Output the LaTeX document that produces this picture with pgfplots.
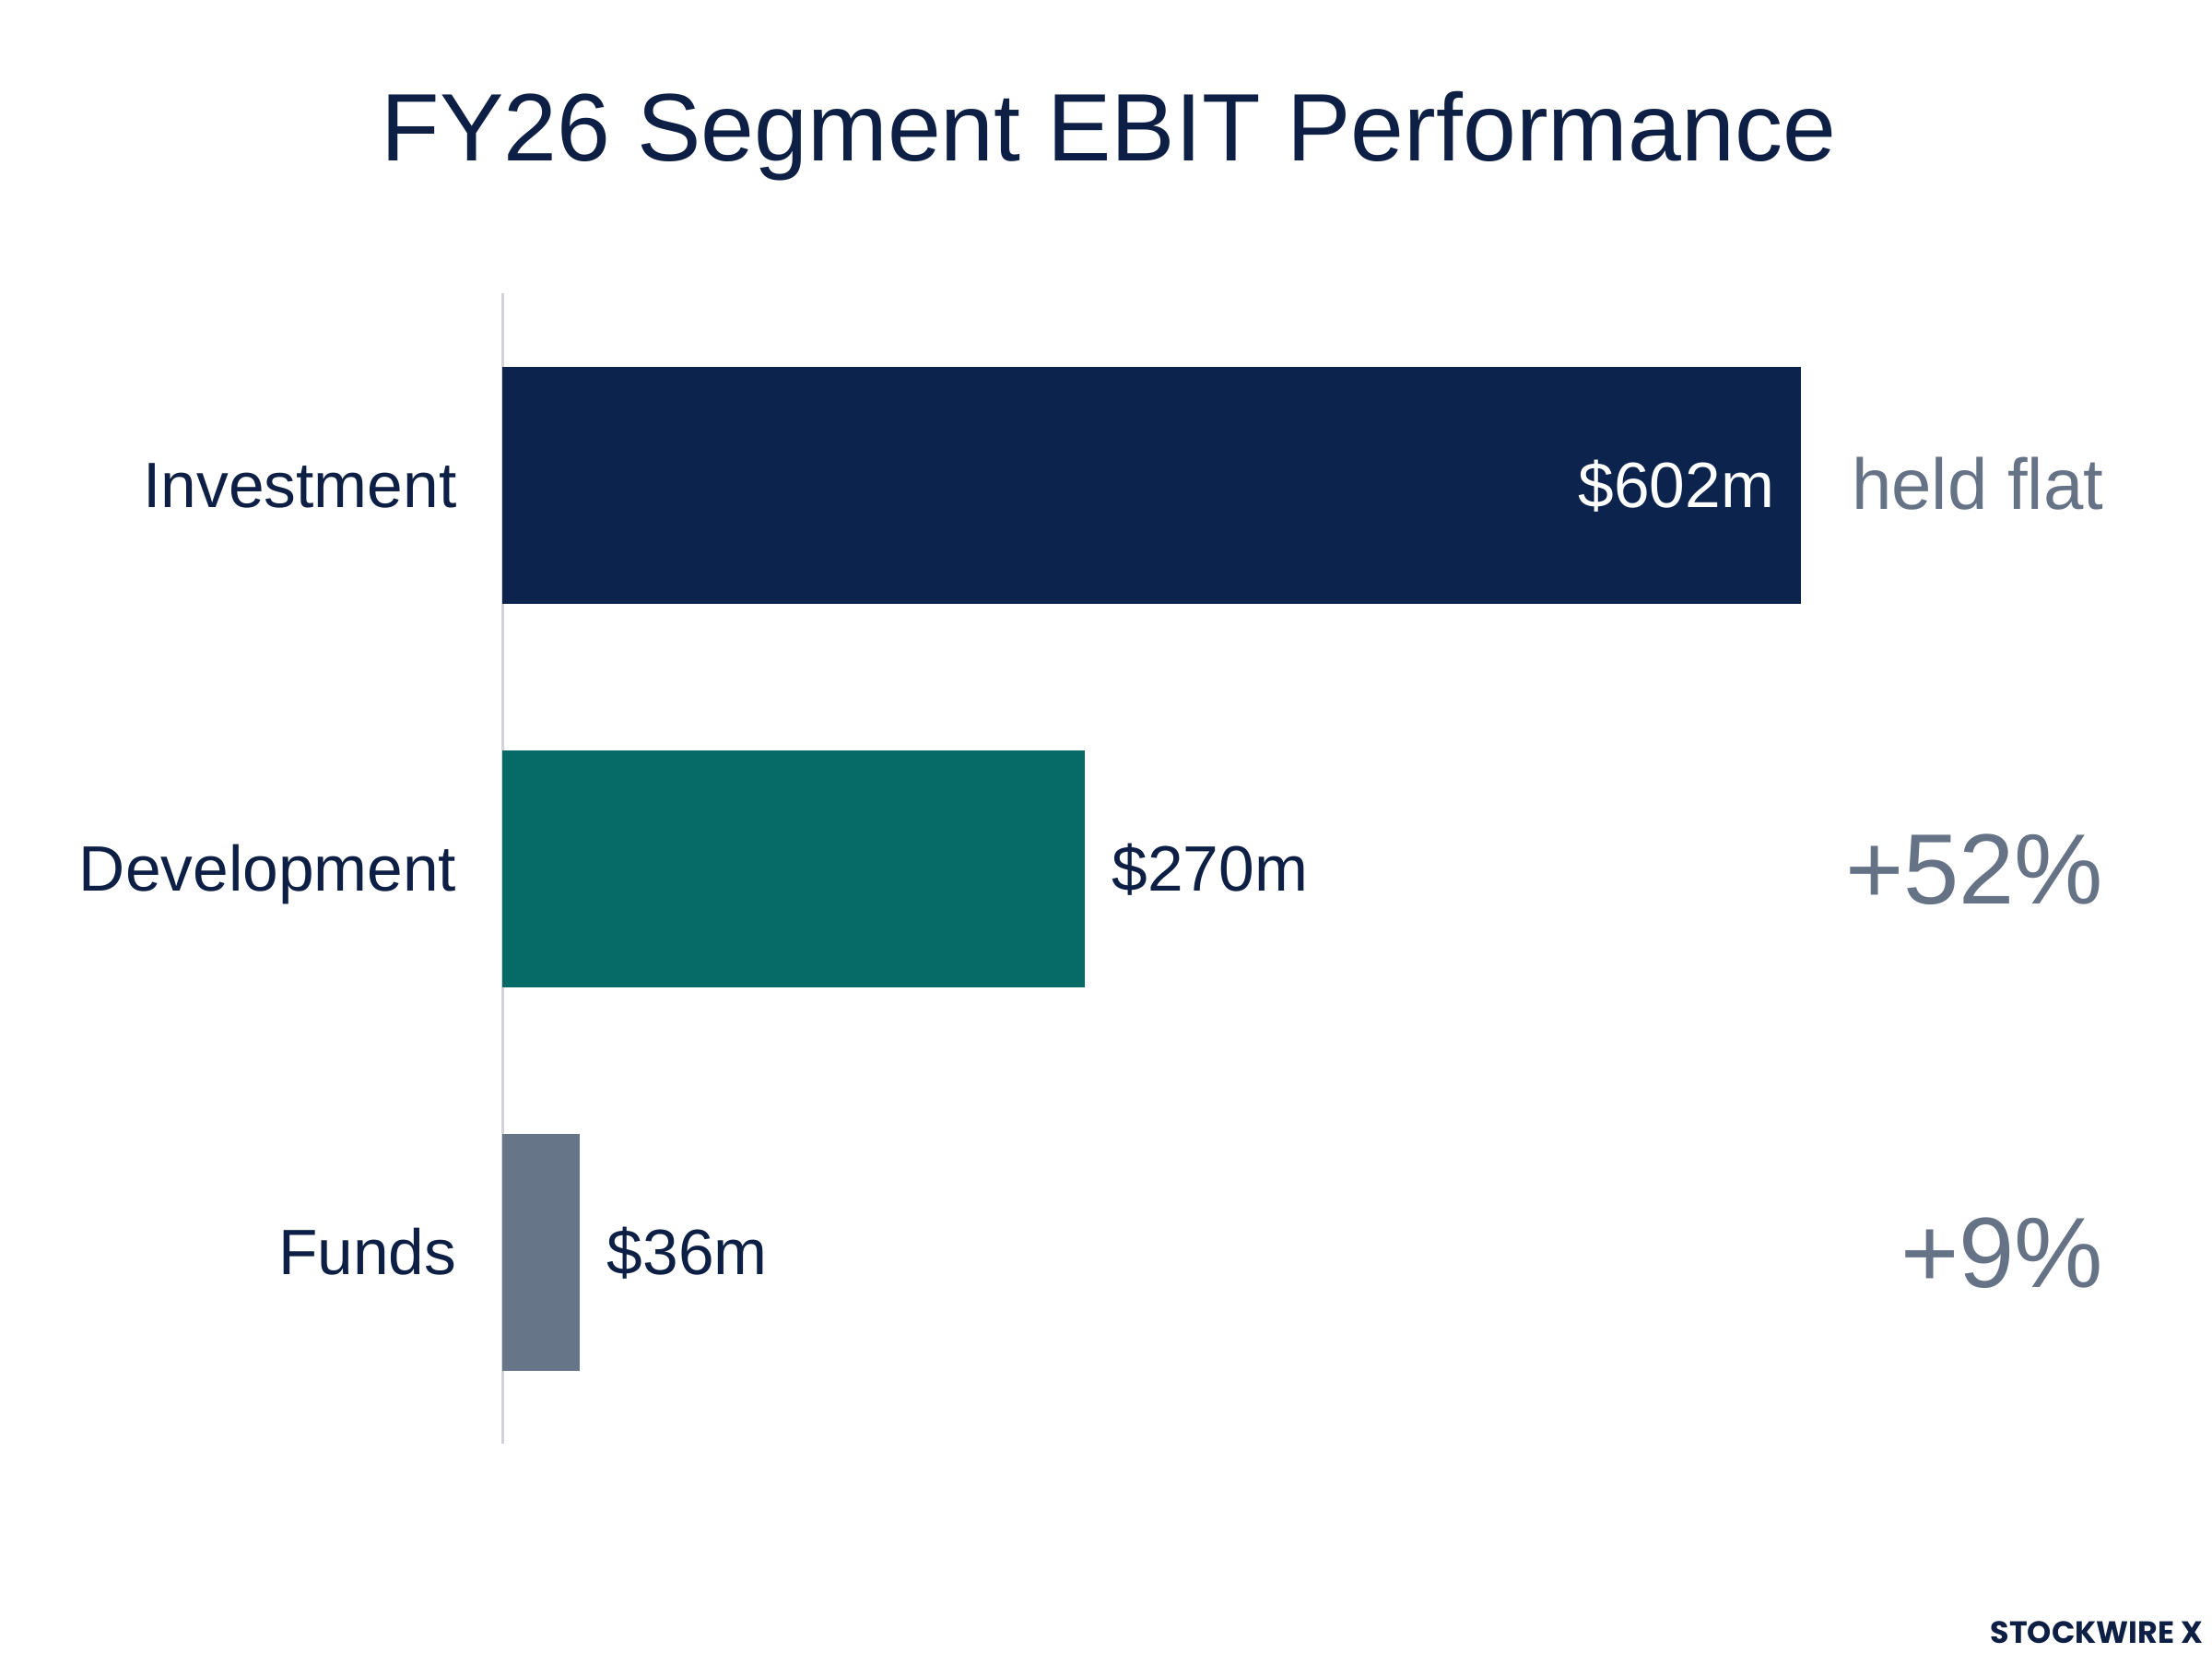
\documentclass[border=0pt]{standalone}
\usepackage{fontspec}
\setmainfont{Liberation Sans}
\newfontfamily\poppins{Poppins}
\usepackage{pgfplots}
\pgfplotsset{compat=1.18}
\definecolor{navy}{HTML}{0C244D}
\definecolor{textnavy}{HTML}{0D1F44}
\definecolor{teal}{HTML}{066B67}
\definecolor{slate}{HTML}{667588}
\definecolor{graytext}{HTML}{667386}
\definecolor{axisgray}{HTML}{D4D4D8}
\begin{document}
\begin{tikzpicture}
\useasboundingbox[fill=white] (0,0) rectangle (720bp,537.6bp);
% title
\node[anchor=base, inner sep=0pt, text=textnavy, font=\fontsize{31.2bp}{36bp}\selectfont]
  at (360.9bp,485.1bp) {FY26 Segment EBIT Performance};
\begin{axis}[
  at={(163.5bp,67.8bp)}, anchor=south west,
  scale only axis,
  width=491.4bp, height=374.4bp,
  xmin=0, xmax=700,
  ymin=-0.5, ymax=2.5,
  y dir=reverse,
  xbar, bar width=77.1bp, bar shift=0pt,
  axis x line=none,
  axis y line*=left,
  y axis line style={draw=axisgray, line width=0.9bp},
  ytick={0,1,2},
  yticklabels={Investment,Development,Funds},
  major tick length=0pt,
  yticklabel style={anchor=base east, inner sep=0pt, xshift=-14.7bp, yshift=-7.4bp,
    text=textnavy, font=\fontsize{20.85bp}{24bp}\selectfont},
  clip=false,
]
\addplot[fill=navy, draw=none] coordinates {(602,0)};
\addplot[fill=teal, draw=none] coordinates {(270,1)};
\addplot[fill=slate, draw=none] coordinates {(36,2)};
% value labels
\node[anchor=base east, inner sep=0pt, xshift=-8.4bp, yshift=-7.4bp, text=white,
  font=\fontsize{20.85bp}{24bp}\selectfont] at (axis cs:602,0) {\$602m};
\node[anchor=base west, inner sep=0pt, xshift=8.7bp, yshift=-7.4bp, text=textnavy,
  font=\fontsize{20.85bp}{24bp}\selectfont] at (axis cs:270,1) {\$270m};
\node[anchor=base west, inner sep=0pt, xshift=8.7bp, yshift=-7.4bp, text=textnavy,
  font=\fontsize{20.85bp}{24bp}\selectfont] at (axis cs:36,2) {\$36m};
% change annotations
\node[anchor=base east, inner sep=0pt, yshift=-7.8bp, text=graytext,
  font=\fontsize{23.4bp}{27bp}\selectfont] at (axis cs:742.7,0) {held flat};
\node[anchor=base east, inner sep=0pt, yshift=-11.4bp, text=graytext,
  font=\fontsize{32.5bp}{38bp}\selectfont] at (axis cs:742.7,1) {+52\%};
\node[anchor=base east, inner sep=0pt, yshift=-11.4bp, text=graytext,
  font=\fontsize{32.5bp}{38bp}\selectfont] at (axis cs:742.7,2) {+9\%};
\end{axis}
% watermark
\node[anchor=base east, inner sep=0pt, text=textnavy, font=\poppins\bfseries\fontsize{10bp}{12bp}\selectfont]
  at (717.3bp,3bp) {STOCKWIRE X};
\end{tikzpicture}
\end{document}
